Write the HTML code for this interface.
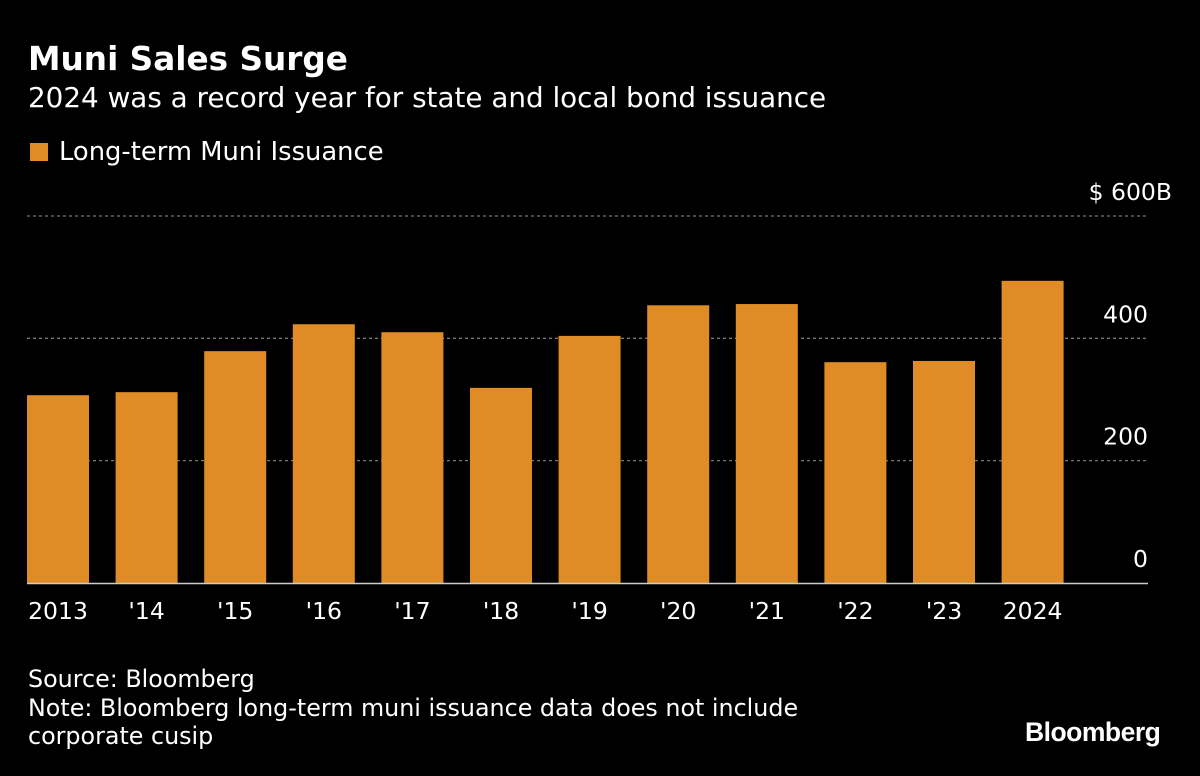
<!DOCTYPE html>
<html><head><meta charset="utf-8"><style>
body{margin:0;background:#000;width:1200px;height:776px;overflow:hidden;font-family:"DejaVu Sans","Liberation Sans",sans-serif;color:#fff}
.t{position:absolute;white-space:nowrap}
</style></head><body>
<div class="t" style="left:28px;top:40px;font-size:32.7px;font-weight:bold">Muni Sales Surge</div>
<div class="t" style="left:28px;top:81px;font-size:27.8px">2024 was a record year for state and local bond issuance</div>
<div class="t" style="left:30px;top:137px;font-size:25.8px"><span style="display:inline-block;width:18px;height:18px;background:#e08c26;margin-right:11px;vertical-align:-1px"></span>Long-term Muni Issuance</div>
<svg id="c" width="1200" height="776" style="position:absolute;left:0;top:0"></svg>
<div class="t" style="left:28px;top:665px;font-size:23.8px;line-height:28.5px">Source: Bloomberg<br>Note: Bloomberg long-term muni issuance data does not include<br>corporate cusip</div>
<div class="t" style="left:1025px;top:717px;font-size:26.5px;font-weight:bold;font-family:'Liberation Sans',sans-serif;letter-spacing:-0.5px">Bloomberg</div>
<script>
const categories=["2013","'14","'15","'16","'17","'18","'19","'20","'21","'22","'23","2024"];
const values=[307,312,379,423,410,319,404,454,456,361,363,494];
const ticks=[0,200,400,600];
const tickLabels=["0","200","400","$ 600B"];
const svg=document.getElementById('c');const NS='http://www.w3.org/2000/svg';
const y=v=>583-v*0.6117;
const x=i=>27+i*88.6;
function mk(t,a){const e=document.createElementNS(NS,t);for(const k in a)e.setAttribute(k,a[k]);svg.appendChild(e);return e;}
ticks.forEach((t,i)=>{
 if(t>0){const l=mk('line',{x1:27,x2:1148,y1:y(t),y2:y(t),stroke:'#777','stroke-width':1.3,'stroke-dasharray':'3,3'});
 
 }
 const tx=mk('text',{x:(t===600?1172:1148),y:y(t)-16,'text-anchor':'end',fill:'#fff','font-size':23.5,'font-family':'DejaVu Sans,sans-serif'});
 tx.textContent=tickLabels[i];
 
 
});
values.forEach((v,i)=>{
 const r=mk('rect',{x:x(i),y:y(v),width:62,height:583-y(v),fill:'#e08c26'});
 
 
 const tx=mk('text',{x:x(i)+31,y:619,'text-anchor':'middle',fill:'#fff','font-size':23.5,'font-family':'DejaVu Sans,sans-serif'});
 tx.textContent=categories[i];
 
 
});
const ax=mk('line',{x1:27,x2:1148,y1:583.5,y2:583.5,stroke:'#ccc','stroke-width':1.5});


</script>
</body></html>
